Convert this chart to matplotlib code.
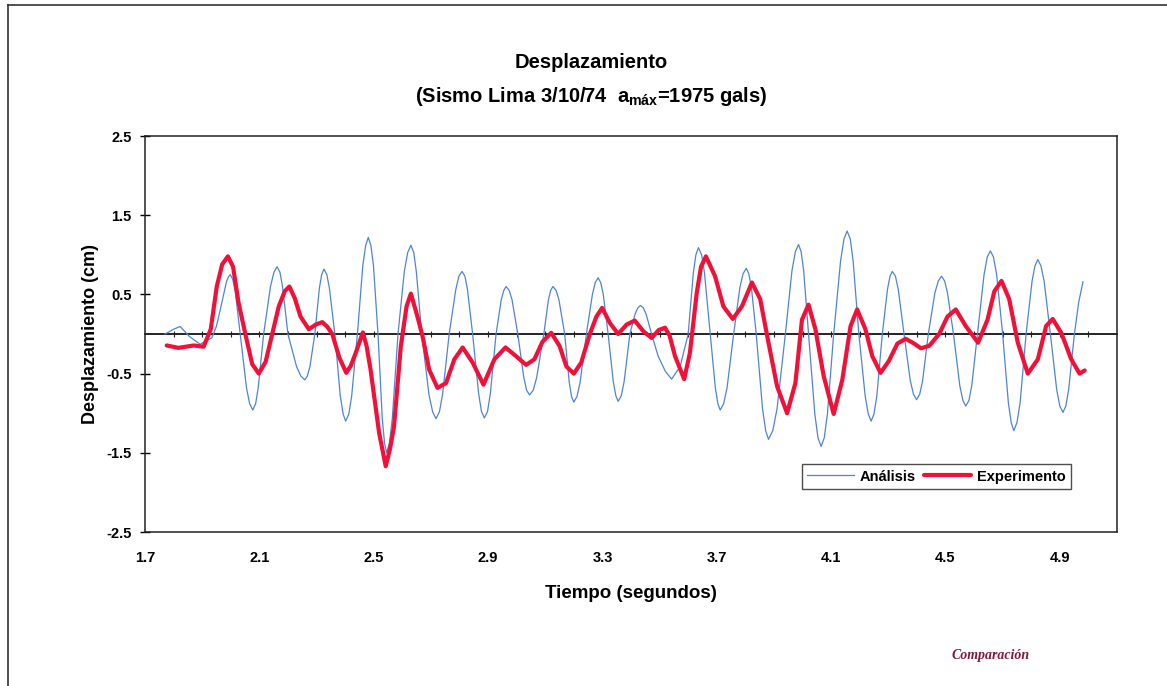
import matplotlib
matplotlib.use("Agg")
import matplotlib.pyplot as plt
from matplotlib.lines import Line2D
import numpy as np

plt.rcParams['font.family'] = ['Liberation Sans', 'DejaVu Sans']
plt.rcParams['mathtext.default'] = 'regular'

# ---- data ----
t_analisis = [
    1.770, 1.800, 1.823, 1.855, 1.893, 1.915, 1.934, 1.950, 1.969, 1.985, 1.992, 1.998, 2.007, 2.016,
    2.033, 2.055, 2.066, 2.077, 2.087, 2.096,
    2.115, 2.139, 2.151, 2.162, 2.172, 2.181,
    2.200, 2.230, 2.245, 2.259, 2.268, 2.277,
    2.294, 2.310, 2.318, 2.326, 2.336, 2.345,
    2.364, 2.383, 2.393, 2.402, 2.413, 2.423,
    2.443, 2.462, 2.472, 2.481, 2.490, 2.499,
    2.515, 2.530, 2.538, 2.545, 2.555, 2.565,
    2.585, 2.607, 2.619, 2.630, 2.640, 2.649,
    2.668, 2.693, 2.706, 2.718, 2.730, 2.741,
    2.764, 2.787, 2.798, 2.809, 2.819, 2.828,
    2.846, 2.867, 2.877, 2.887, 2.898, 2.908,
    2.928, 2.946, 2.955, 2.963, 2.974, 2.984,
    3.004, 3.025, 3.035, 3.045, 3.058, 3.070,
    3.095, 3.111, 3.119, 3.127, 3.138, 3.148,
    3.168, 3.184, 3.192, 3.200, 3.211, 3.222,
    3.244, 3.265, 3.275, 3.285, 3.294, 3.303,
    3.320, 3.338, 3.347, 3.355, 3.366, 3.376,
    3.396, 3.415, 3.424, 3.433, 3.443, 3.453,
    3.472, 3.495, 3.520, 3.542, 3.572,
    3.600, 3.618, 3.627, 3.636, 3.647, 3.657,
    3.677, 3.695, 3.704, 3.712, 3.724, 3.736,
    3.759, 3.781, 3.792, 3.803, 3.812, 3.821,
    3.838, 3.860, 3.871, 3.881, 3.896, 3.911,
    3.940, 3.963, 3.975, 3.986, 3.995, 4.004,
    4.021, 4.043, 4.054, 4.065, 4.076, 4.087,
    4.109, 4.133, 4.145, 4.156, 4.167, 4.177,
    4.197, 4.219, 4.230, 4.240, 4.250, 4.260,
    4.279, 4.297, 4.306, 4.314, 4.325, 4.335,
    4.355, 4.377, 4.388, 4.399, 4.410, 4.420,
    4.440, 4.463, 4.475, 4.486, 4.497, 4.507,
    4.528, 4.550, 4.561, 4.571, 4.582, 4.592,
    4.612, 4.635, 4.646, 4.657, 4.668, 4.679,
    4.700, 4.720, 4.730, 4.739, 4.750, 4.761,
    4.782, 4.803, 4.813, 4.823, 4.834, 4.845,
    4.867, 4.889, 4.900, 4.911, 4.921, 4.931,
    4.951, 4.966, 4.981,
]
v_analisis = [
    0.00, 0.06, 0.095, -0.03, -0.13, -0.08, -0.05, 0.10, 0.40, 0.66, 0.72, 0.75, 0.69, 0.53,
    0.00, -0.68, -0.88, -0.96, -0.88, -0.68,
    0.00, 0.60, 0.78, 0.85, 0.78, 0.60,
    0.00, -0.41, -0.53, -0.58, -0.53, -0.41,
    0.00, 0.58, 0.75, 0.82, 0.75, 0.58,
    0.00, -0.78, -1.01, -1.10, -1.01, -0.78,
    0.00, 0.87, 1.12, 1.22, 1.12, 0.87,
    0.00, -1.07, -1.38, -1.50, -1.38, -1.07,
    0.00, 0.79, 1.03, 1.12, 1.03, 0.79,
    0.00, -0.76, -0.98, -1.07, -0.98, -0.76,
    0.00, 0.56, 0.73, 0.79, 0.73, 0.56,
    0.00, -0.75, -0.98, -1.06, -0.98, -0.75,
    0.00, 0.43, 0.55, 0.60, 0.55, 0.43,
    0.00, -0.55, -0.71, -0.77, -0.71, -0.55,
    0.00, 0.43, 0.55, 0.60, 0.55, 0.43,
    0.00, -0.61, -0.79, -0.86, -0.79, -0.61,
    0.00, 0.50, 0.65, 0.71, 0.65, 0.50,
    0.00, -0.60, -0.78, -0.85, -0.78, -0.60,
    0.00, 0.26, 0.33, 0.36, 0.33, 0.25,
    0.00, -0.28, -0.47, -0.57, -0.41,
    0.00, 0.77, 1.00, 1.09, 1.00, 0.77,
    0.00, -0.68, -0.88, -0.96, -0.88, -0.68,
    0.00, 0.59, 0.76, 0.83, 0.76, 0.59,
    0.00, -0.94, -1.22, -1.33, -1.22, -0.94,
    0.00, 0.80, 1.04, 1.13, 1.04, 0.80,
    0.00, -1.01, -1.31, -1.42, -1.31, -1.01,
    0.00, 0.92, 1.20, 1.30, 1.20, 0.92,
    0.00, -0.78, -1.01, -1.10, -1.01, -0.78,
    0.00, 0.56, 0.73, 0.79, 0.73, 0.56,
    0.00, -0.59, -0.76, -0.83, -0.76, -0.59,
    0.00, 0.52, 0.67, 0.73, 0.67, 0.52,
    0.00, -0.65, -0.84, -0.91, -0.84, -0.65,
    0.00, 0.75, 0.97, 1.05, 0.97, 0.75,
    0.00, -0.87, -1.12, -1.22, -1.12, -0.87,
    0.00, 0.67, 0.86, 0.94, 0.86, 0.67,
    0.00, -0.70, -0.91, -0.99, -0.91, -0.70,
    0.00, 0.40, 0.66,
]

t_experimento = [
    1.776, 1.817, 1.870, 1.905, 1.930, 1.951, 1.970, 1.990,
    2.008, 2.027, 2.051, 2.075, 2.098, 2.122, 2.145, 2.168,
    2.189, 2.205, 2.224, 2.244, 2.273, 2.298, 2.320, 2.338,
    2.355, 2.380, 2.404, 2.420, 2.437, 2.462, 2.475, 2.489,
    2.519, 2.542, 2.557, 2.571, 2.595, 2.615, 2.630, 2.653,
    2.671, 2.694, 2.723, 2.753, 2.782, 2.811, 2.846, 2.884,
    2.922, 2.961, 2.998, 3.033, 3.062, 3.090, 3.121, 3.150,
    3.174, 3.200, 3.226, 3.256, 3.279, 3.299, 3.326, 3.355,
    3.385, 3.413, 3.443, 3.472, 3.497, 3.519, 3.535, 3.554,
    3.586, 3.606, 3.630, 3.645, 3.662, 3.694, 3.723, 3.756,
    3.788, 3.823, 3.852, 3.875, 3.911, 3.946, 3.975, 3.998,
    4.021, 4.045, 4.074, 4.109, 4.139, 4.168, 4.191, 4.220,
    4.244, 4.273, 4.302, 4.332, 4.361, 4.390, 4.414, 4.443,
    4.478, 4.507, 4.536, 4.571, 4.614, 4.647, 4.671, 4.696,
    4.723, 4.753, 4.788, 4.823, 4.852, 4.875, 4.905, 4.940,
    4.969, 4.987,
]
v_experimento = [
    -0.145, -0.175, -0.145, -0.160, 0.06, 0.60, 0.88, 0.98,
    0.85, 0.40, 0.00, -0.38, -0.50, -0.35, 0.00, 0.35,
    0.54, 0.60, 0.45, 0.22, 0.06, 0.12, 0.15, 0.09,
    0.00, -0.30, -0.49, -0.40, -0.24, 0.02, -0.15, -0.45,
    -1.25, -1.67, -1.45, -1.17, -0.15, 0.35, 0.51, 0.22,
    -0.03, -0.45, -0.68, -0.62, -0.32, -0.17, -0.36, -0.64,
    -0.32, -0.17, -0.28, -0.39, -0.32, -0.10, 0.015, -0.15,
    -0.41, -0.50, -0.36, 0.00, 0.22, 0.33, 0.14, 0.00,
    0.12, 0.17, 0.035, -0.05, 0.05, 0.08, -0.02, -0.28,
    -0.57, -0.24, 0.52, 0.85, 0.98, 0.73, 0.35, 0.19,
    0.35, 0.65, 0.44, 0.00, -0.66, -1.00, -0.62, 0.18,
    0.37, 0.06, -0.53, -1.01, -0.58, 0.10, 0.31, 0.06,
    -0.28, -0.49, -0.34, -0.12, -0.06, -0.12, -0.18, -0.15,
    0.00, 0.22, 0.31, 0.10, -0.11, 0.18, 0.54, 0.67,
    0.44, -0.11, -0.50, -0.32, 0.10, 0.19, 0.015, -0.32,
    -0.50, -0.46,
]

x_ticks = [1.7, 2.1, 2.5, 2.9, 3.3, 3.7, 4.1, 4.5, 4.9]
y_ticks = [-2.5, -1.5, -0.5, 0.5, 1.5, 2.5]
labels = ['Análisis', 'Experimento']

# ---- figure ----
W, H = 1167, 686
fig = plt.figure(figsize=(W / 100, H / 100), dpi=100)
fig.patch.set_facecolor('white')

ax = fig.add_axes([145 / W, 1 - 532 / H, 972 / W, 396 / H])
ax.set_xlim(1.7, 5.1)
ax.set_ylim(-2.5, 2.5)

ax.plot(t_analisis, v_analisis, color='#4F84D6', lw=0.9, label=labels[0], zorder=3)
ax.plot(t_experimento, v_experimento, color='#F01038', lw=3.0, label=labels[1],
        solid_joinstyle='round', solid_capstyle='round', zorder=4)

for s in ax.spines.values():
    s.set_color('#222222')
    s.set_linewidth(1.1)

ax.set_xticks(x_ticks)
ax.set_xticklabels([f'{x:.1f}' for x in x_ticks])
ax.set_yticks(y_ticks)
ax.set_yticklabels([f'{y:.1f}' for y in y_ticks])
ax.tick_params(axis='x', length=0, pad=14, labelsize=10.5)
ax.tick_params(axis='y', direction='inout', length=7, width=1, pad=6, labelsize=10.5)
for lab in ax.get_xticklabels() + ax.get_yticklabels():
    lab.set_fontweight('bold')

# x axis line crossing at zero with small ticks
sec = ax.secondary_xaxis(0.5)
sec.set_xticks(np.round(np.arange(1.8, 5.1, 0.1), 1))
sec.tick_params(axis='x', direction='inout', length=4, width=0.8, labelbottom=False,
                labeltop=False, colors='#222222')
sec.spines['bottom'].set_visible(False)
sec.spines['top'].set_color('#222222')
sec.spines['top'].set_linewidth(1.2)
ax.axhline(0, color='#222222', lw=1.2, zorder=2)

ax.set_xlabel('Tiempo (segundos)', fontsize=13.5, fontweight='bold', labelpad=14)
ax.set_ylabel('Desplazamiento (cm)', fontsize=13, fontweight='bold', labelpad=5)

leg = ax.legend(loc='center', bbox_to_anchor=(0.814, 0.140), ncol=2, frameon=True,
                fancybox=False, edgecolor='#222222', fontsize=10.5, handlelength=3.2,
                handletextpad=0.4, columnspacing=0.6, borderpad=0.35)
leg.get_frame().set_linewidth(1.0)
for txt in leg.get_texts():
    txt.set_fontweight('bold')

fig.text(591 / W, 1 - 62 / H, 'Desplazamiento', ha='center', va='center',
         fontsize=14.5, fontweight='bold')
fig.text(591 / W, 1 - 97 / H, r'(Sismo Lima 3/10/74  a$_{máx}$=1975 gals)',
         ha='center', va='center', fontsize=14.5, fontweight='bold')

fig.text(991 / W, 1 - 656 / H, 'Comparación', ha='center', va='center',
         fontsize=10, style='italic', fontweight='bold', color='#7E1A3C',
         family=['Liberation Serif', 'DejaVu Serif'])

# outer frame (left and top)
fig.add_artist(Line2D([8 / W, 8 / W], [0, 1 - 5 / H], transform=fig.transFigure,
                      color='#333333', lw=1.2))
fig.add_artist(Line2D([8 / W, 1], [1 - 5 / H, 1 - 5 / H], transform=fig.transFigure,
                      color='#333333', lw=1.2))

fig.savefig('out.png', dpi=100)
